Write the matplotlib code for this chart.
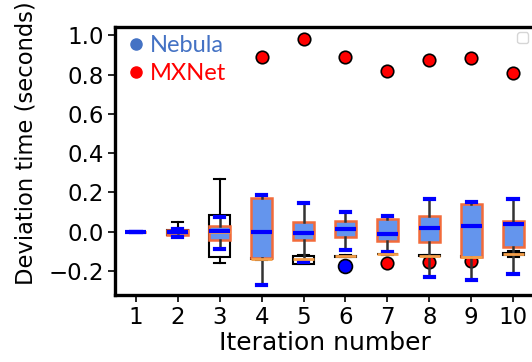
import matplotlib
matplotlib.use('Agg')
import matplotlib.pyplot as plt
from matplotlib.lines import Line2D

# iteration numbers
iterations = [1, 2, 3, 4, 5, 6, 7, 8, 9, 10]

# MXNet box statistics (seconds)
mx_whislo = [0.0, -0.022, -0.161, -0.145, -0.165, -0.127, -0.116, -0.125, -0.130, -0.130]
mx_q1 = [0.0, -0.018, -0.130, -0.140, -0.163, -0.126, -0.115, -0.124, -0.128, -0.120]
mx_med = [0.0, 0.003, 0.0, -0.138, -0.139, -0.124, -0.113, -0.122, -0.127, -0.115]
mx_q3 = [0.0, 0.007, 0.085, -0.135, -0.124, -0.122, -0.111, -0.120, -0.125, -0.110]
mx_whishi = [0.0, 0.048, 0.268, -0.130, -0.119, -0.120, -0.109, -0.118, -0.123, -0.097]
mx_fliers = [[], [], [], [0.887], [0.981], [0.889], [0.819, -0.161],
             [0.872, -0.154], [0.882, -0.149], [0.809]]

# Nebula box statistics (seconds)
neb_whislo = [0.0, -0.025, -0.087, -0.272, -0.153, -0.092, -0.105, -0.231, -0.246, -0.214]
neb_q1 = [0.0, -0.015, -0.044, -0.132, -0.044, -0.028, -0.047, -0.051, -0.127, -0.076]
neb_med = [0.0, 0.0, 0.004, 0.0, -0.005, 0.015, -0.012, 0.020, 0.029, 0.038]
neb_q3 = [0.0, 0.008, 0.029, 0.173, 0.048, 0.056, 0.065, 0.080, 0.142, 0.056]
neb_whishi = [0.0, 0.012, 0.073, 0.186, 0.145, 0.099, 0.081, 0.165, 0.153, 0.166]
neb_fliers = [[], [], [], [], [], [-0.175], [], [], [], []]


def make_stats(whislo, q1, med, q3, whishi, fliers):
    return [dict(whislo=a, q1=b, med=c, q3=d, whishi=e, fliers=f)
            for a, b, c, d, e, f in zip(whislo, q1, med, q3, whishi, fliers)]


fig = plt.figure(figsize=(5.32, 3.62), dpi=100)
ax = fig.add_axes([0.2162, 0.185, 0.7876, 0.741])

mx_stats = make_stats(mx_whislo, mx_q1, mx_med, mx_q3, mx_whishi, mx_fliers)
neb_stats = make_stats(neb_whislo, neb_q1, neb_med, neb_q3, neb_whishi, neb_fliers)

ax.bxp(mx_stats, positions=iterations, widths=0.5, patch_artist=True,
       boxprops=dict(facecolor='white', edgecolor='black', linewidth=1.5),
       medianprops=dict(color='#F5A04A', linewidth=2),
       whiskerprops=dict(color='black', linewidth=1.5),
       capprops=dict(color='black', linewidth=1.5),
       capwidths=0.26,
       flierprops=dict(marker='o', markerfacecolor='red', markeredgecolor='black',
                       markersize=9, markeredgewidth=1.2),
       manage_ticks=False)

ax.bxp(neb_stats, positions=iterations, widths=0.5, patch_artist=True,
       boxprops=dict(facecolor='#6495ED', edgecolor='#F26B3A', linewidth=1.8),
       medianprops=dict(color='#0000FF', linewidth=3),
       whiskerprops=dict(color='#333333', linewidth=1.8),
       capprops=dict(color='#0000FF', linewidth=3),
       capwidths=0.22,
       flierprops=dict(marker='o', markerfacecolor='#0000FF', markeredgecolor='black',
                       markersize=10, markeredgewidth=1.2),
       manage_ticks=False)

ax.set_xlim(0.5, 10.5)
ax.set_ylim(-0.322, 1.043)
ax.set_xticks(iterations)
ax.set_yticks([-0.2, 0.0, 0.2, 0.4, 0.6, 0.8, 1.0])
ax.tick_params(labelsize=16.5, width=1.2, length=5, pad=3)
ax.set_xlabel('Iteration number', fontsize=18, labelpad=1)
ax.set_ylabel('Deviation time (seconds)', fontsize=16.3)
ax.yaxis.set_label_coords(-0.185, 0.568)
for side in ['left', 'bottom', 'top', 'right']:
    ax.spines[side].set_linewidth(2.4)

handles = [Line2D([], [], marker='o', linestyle='none', color='#4472C4', markersize=8),
           Line2D([], [], marker='o', linestyle='none', color='red', markersize=8)]
leg = ax.legend(handles, ['Nebula', 'MXNet'], loc='upper left', frameon=False,
                prop=dict(family='Lato', size=17), handlelength=0.8,
                handletextpad=0.15, labelspacing=0.3, borderaxespad=0,
                bbox_to_anchor=(0.006, 1.005), labelcolor=['#4472C4', 'red'])
ax.add_artist(leg)
ax.legend(handles=[], loc='upper right', borderaxespad=0.4)

fig.savefig('out.png', dpi=100)
